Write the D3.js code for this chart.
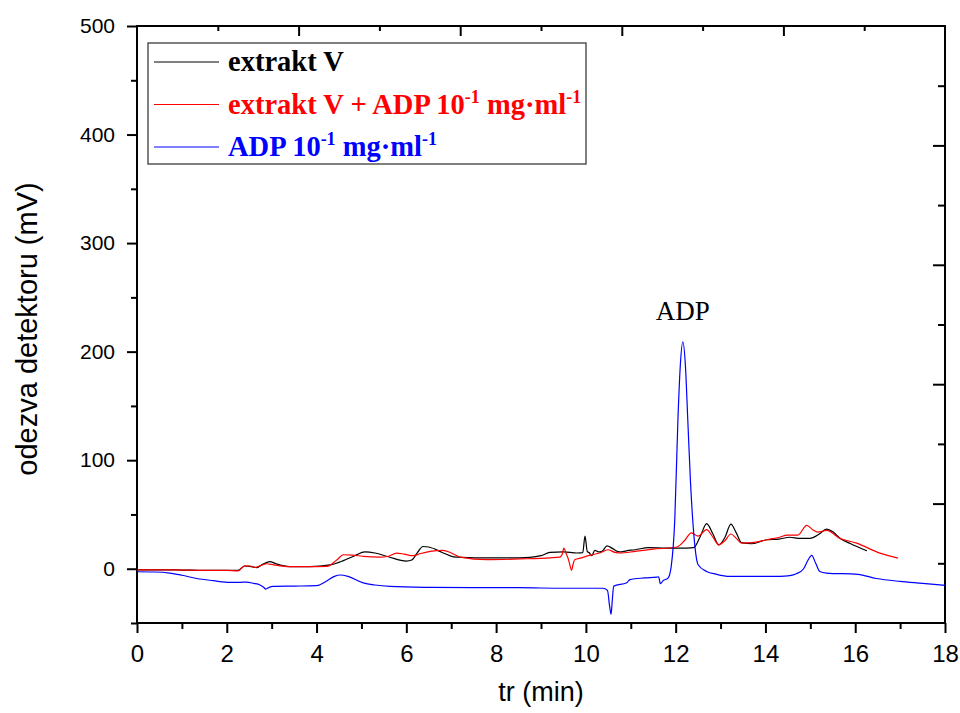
<!DOCTYPE html>
<html>
<head>
<meta charset="utf-8">
<script src="https://cdn.jsdelivr.net/npm/d3@7"></script>
<style>
  body { margin: 0; background: #fff; }
  svg { display: block; }
</style>
</head>
<body>
<svg></svg>
<script>
// retention time (min) and detector response (mV)
var tExtrakt = [0, 0.5, 1, 1.5, 2, 2.25, 2.4, 2.55, 2.67, 2.8, 2.96, 3.1, 3.4, 3.85, 4.3, 4.6, 4.85, 5.08, 5.3, 5.6, 6.0, 6.12, 6.25, 6.37, 6.5, 6.8, 7.05, 7.25, 7.8, 8.3, 8.75, 9.0, 9.2, 9.5, 9.8, 9.93, 9.98, 10.03, 10.08, 10.13, 10.2, 10.28, 10.36, 10.47, 10.58, 10.7, 10.76, 10.9, 11.1, 11.4, 11.8, 12.1, 12.4, 12.55, 12.69, 12.83, 12.96, 13.1, 13.23, 13.35, 13.47, 13.7, 14.03, 14.3, 14.54, 14.77, 14.99, 15.2, 15.36, 15.5, 15.66, 15.9, 16.26];
var vExtrakt = [-1, -1, -1.2, -1.5, -1.5, -1.5, 2.5, 2, 1, 4, 6.5, 4.5, 2, 2, 3.5, 7.5, 12, 15.5, 14.5, 11, 7, 8, 15, 20.5, 20, 15, 11, 10.5, 10, 10, 10.5, 12, 15, 15.5, 14.5, 14.8, 30, 16, 14.5, 12, 17, 15.5, 16, 21, 19, 16, 15.5, 16.5, 17.5, 19.5, 19, 19, 19.5, 30, 41.5, 32, 22, 29, 41, 33, 24, 23, 26.7, 27.3, 29, 28, 28, 32, 36.5, 34, 28, 23, 16.5];

var tSmes = [0, 0.5, 1, 1.5, 2, 2.25, 2.4, 2.52, 2.63, 2.76, 2.89, 3.05, 3.34, 3.8, 4.23, 4.45, 4.6, 4.8, 5.04, 5.41, 5.6, 5.78, 5.95, 6.15, 6.3, 6.53, 6.82, 7.0, 7.2, 7.8, 8.53, 9.2, 9.42, 9.47, 9.51, 9.56, 9.6, 9.64, 9.68, 9.72, 9.75, 9.9, 10.1, 10.31, 10.49, 10.65, 10.76, 11.1, 11.5, 12.03, 12.2, 12.35, 12.5, 12.69, 12.83, 12.96, 13.1, 13.23, 13.35, 13.47, 13.7, 14.03, 14.32, 14.48, 14.72, 14.92, 15.05, 15.17, 15.36, 15.66, 16.03, 16.55, 16.95];
var vSmes = [-1, -1, -1.2, -1.5, -1.5, -2, 2.7, 2.5, 1.2, 3, 4.6, 3.5, 2, 2, 2.2, 8, 12.9, 12.5, 11.4, 10.7, 11.5, 14.4, 13.5, 12, 13.8, 16, 17, 14.5, 10.7, 8.3, 9, 10, 10.7, 13, 19, 14, 10, 4, -1.5, 5, 8.3, 10, 12.5, 14.5, 17.5, 15, 14.5, 16, 18, 20, 26, 33, 30, 36, 29, 22, 26, 32, 28, 23.6, 24, 26.7, 29, 31, 31, 40, 36, 33.8, 35.3, 28, 23.6, 14.4, 9.8];

var tAdp = [0, 0.4, 0.73, 1.0, 1.33, 1.7, 2.07, 2.3, 2.44, 2.6, 2.74, 2.82, 2.87, 2.93, 3.03, 3.5, 4.0, 4.2, 4.4, 4.52, 4.7, 5.04, 5.3, 5.64, 6.53, 7.5, 8.5, 9.5, 10.38, 10.48, 10.53, 10.56, 10.59, 10.62, 10.91, 10.98, 11.3, 11.58, 11.62, 11.66, 11.72, 11.83, 11.9, 11.98, 12.05, 12.1, 12.16, 12.22, 12.27, 12.33, 12.38, 12.5, 12.69, 12.9, 13.2, 14.17, 14.5, 14.69, 14.85, 14.95, 15.03, 15.12, 15.21, 15.36, 16.06, 16.47, 17.0, 17.5, 18];
var vAdp = [-2.8, -3, -4, -6, -9, -11, -12.6, -12.5, -12.3, -13.5, -15, -17, -18.7, -17.5, -16.3, -16, -15.6, -12, -7, -5.8, -7, -13, -15, -16.3, -17.2, -17.5, -17.5, -18, -18, -20, -35, -42, -28, -16, -13, -10, -8.5, -7.7, -7.5, -13.8, -11, -8.6, 2, 45, 137, 185, 209, 185, 137, 80, 45, 3.7, -2.5, -5, -7, -7, -6.5, -4.6, 0, 8, 12.3, 5, -2.5, -4, -5.2, -9, -11.7, -13.5, -15.4];

var xTicks = [0, 2, 4, 6, 8, 10, 12, 14, 16, 18];
var yTicks = [0, 100, 200, 300, 400, 500];

var series = [
  { t: tExtrakt, v: vExtrakt, color: "#000000",
    label: [["extrakt V", 0]] },
  { t: tSmes, v: vSmes, color: "#ff0000",
    label: [["extrakt V + ADP 10", 0], ["-1", 1], [" mg\u00b7ml", 0], ["-1", 1]] },
  { t: tAdp, v: vAdp, color: "#0000ff",
    label: [["ADP 10", 0], ["-1", 1], [" mg\u00b7ml", 0], ["-1", 1]] }
];

var width = 960,
  height = 713,
  plotL = 137,
  plotR = 945,
  plotT = 26,
  plotB = 623;

var svg = d3.select("svg").attr("width", width).attr("height", height);

var x = d3.scaleLinear().domain([0, 18]).range([plotL, plotR]);
var y = d3.scaleLinear().domain([-50, 500]).range([plotB, plotT]);
// opposite axes in the original have their own 0..5 scale
var xTop = d3.scaleLinear().domain([0, 5]).range([plotL, plotR]);
var yRight = d3.scaleLinear().domain([0, 5]).range([plotB, plotT]);

function styleAxis(g, fontSize) {
  g.select(".domain").remove();
  g.selectAll(".tick line").attr("stroke", "#000").attr("stroke-width", 2);
  g.selectAll(".tick text")
    .attr("fill", "#000")
    .attr("font-family", "Liberation Sans, Arial, sans-serif")
    .attr("font-size", fontSize + "px");
}

// bottom axis
svg.append("g")
  .attr("transform", "translate(0," + plotB + ")")
  .call(d3.axisBottom(x).tickValues(d3.range(1, 18, 2)).tickSize(6).tickFormat(""))
  .call(styleAxis, 24);
svg.append("g")
  .attr("transform", "translate(0," + plotB + ")")
  .call(d3.axisBottom(x).tickValues(xTicks).tickSize(10).tickPadding(12))
  .call(styleAxis, 24);

// left axis
svg.append("g")
  .attr("transform", "translate(" + plotL + ",0)")
  .call(d3.axisLeft(y).tickValues([-50, 50, 150, 250, 350, 450]).tickSize(6).tickFormat(""))
  .call(styleAxis, 21);
svg.append("g")
  .attr("transform", "translate(" + plotL + ",0)")
  .call(d3.axisLeft(y).tickValues(yTicks).tickSize(10).tickPadding(12))
  .call(styleAxis, 21);

// top axis, ticks inward
svg.append("g")
  .attr("transform", "translate(0," + plotT + ")")
  .call(d3.axisTop(xTop).tickValues(d3.range(0.5, 5, 1)).tickSize(-5).tickFormat(""))
  .call(styleAxis, 10);
svg.append("g")
  .attr("transform", "translate(0," + plotT + ")")
  .call(d3.axisTop(xTop).tickValues([1, 2, 3, 4]).tickSize(-10).tickFormat(""))
  .call(styleAxis, 10);

// right axis, ticks inward
svg.append("g")
  .attr("transform", "translate(" + plotR + ",0)")
  .call(d3.axisRight(yRight).tickValues(d3.range(0.5, 5, 1)).tickSize(-7).tickFormat(""))
  .call(styleAxis, 10);
svg.append("g")
  .attr("transform", "translate(" + plotR + ",0)")
  .call(d3.axisRight(yRight).tickValues([1, 2, 3, 4]).tickSize(-12).tickFormat(""))
  .call(styleAxis, 10);

// frame
svg.append("rect")
  .attr("x", plotL)
  .attr("y", plotT)
  .attr("width", plotR - plotL)
  .attr("height", plotB - plotT)
  .attr("fill", "none")
  .attr("stroke", "#000")
  .attr("stroke-width", 2);

var line = d3.line()
  .x(function (d) { return x(d[0]); })
  .y(function (d) { return y(d[1]); })
  .curve(d3.curveMonotoneX);

series.forEach(function (s) {
  svg.append("path")
    .datum(d3.zip(s.t, s.v))
    .attr("d", line)
    .attr("fill", "none")
    .attr("stroke", s.color)
    .attr("stroke-width", 1.2)
    .attr("stroke-linejoin", "round");
});

// peak label
svg.append("text")
  .attr("x", x(12.16))
  .attr("y", 320)
  .attr("text-anchor", "middle")
  .attr("font-family", "Liberation Serif, Times New Roman, serif")
  .attr("font-size", "27px")
  .text("ADP");

// axis titles
svg.append("text")
  .attr("x", 541)
  .attr("y", 701)
  .attr("text-anchor", "middle")
  .attr("font-family", "Liberation Sans, Arial, sans-serif")
  .attr("font-size", "27px")
  .text("tr (min)");

svg.append("text")
  .attr("transform", "translate(37,329) rotate(-90)")
  .attr("text-anchor", "middle")
  .attr("font-family", "Liberation Sans, Arial, sans-serif")
  .attr("font-size", "29px")
  .text("odezva detektoru (mV)");

// legend
var legend = svg.append("g");
legend.append("rect")
  .attr("x", 148)
  .attr("y", 43)
  .attr("width", 438)
  .attr("height", 121)
  .attr("fill", "#fff")
  .attr("stroke", "#555")
  .attr("stroke-width", 1.5);

series.forEach(function (s, i) {
  var ly = 71 + i * 42.5;
  legend.append("line")
    .attr("x1", 154)
    .attr("x2", 219)
    .attr("y1", ly - 9)
    .attr("y2", ly - 9)
    .attr("stroke", s.color)
    .attr("stroke-width", 1);
  var txt = legend.append("text")
    .attr("x", 228)
    .attr("y", ly)
    .attr("fill", s.color)
    .attr("font-family", "Liberation Serif, Times New Roman, serif")
    .attr("font-weight", "bold")
    .attr("font-size", "28.5px");
  var shift = 0;
  s.label.forEach(function (p) {
    var target = p[1] ? -11 : 0;
    txt.append("tspan")
      .attr("font-size", p[1] ? "18px" : "28.5px")
      .attr("dy", target - shift)
      .text(p[0]);
    shift = target;
  });
});
</script>
</body>
</html>
